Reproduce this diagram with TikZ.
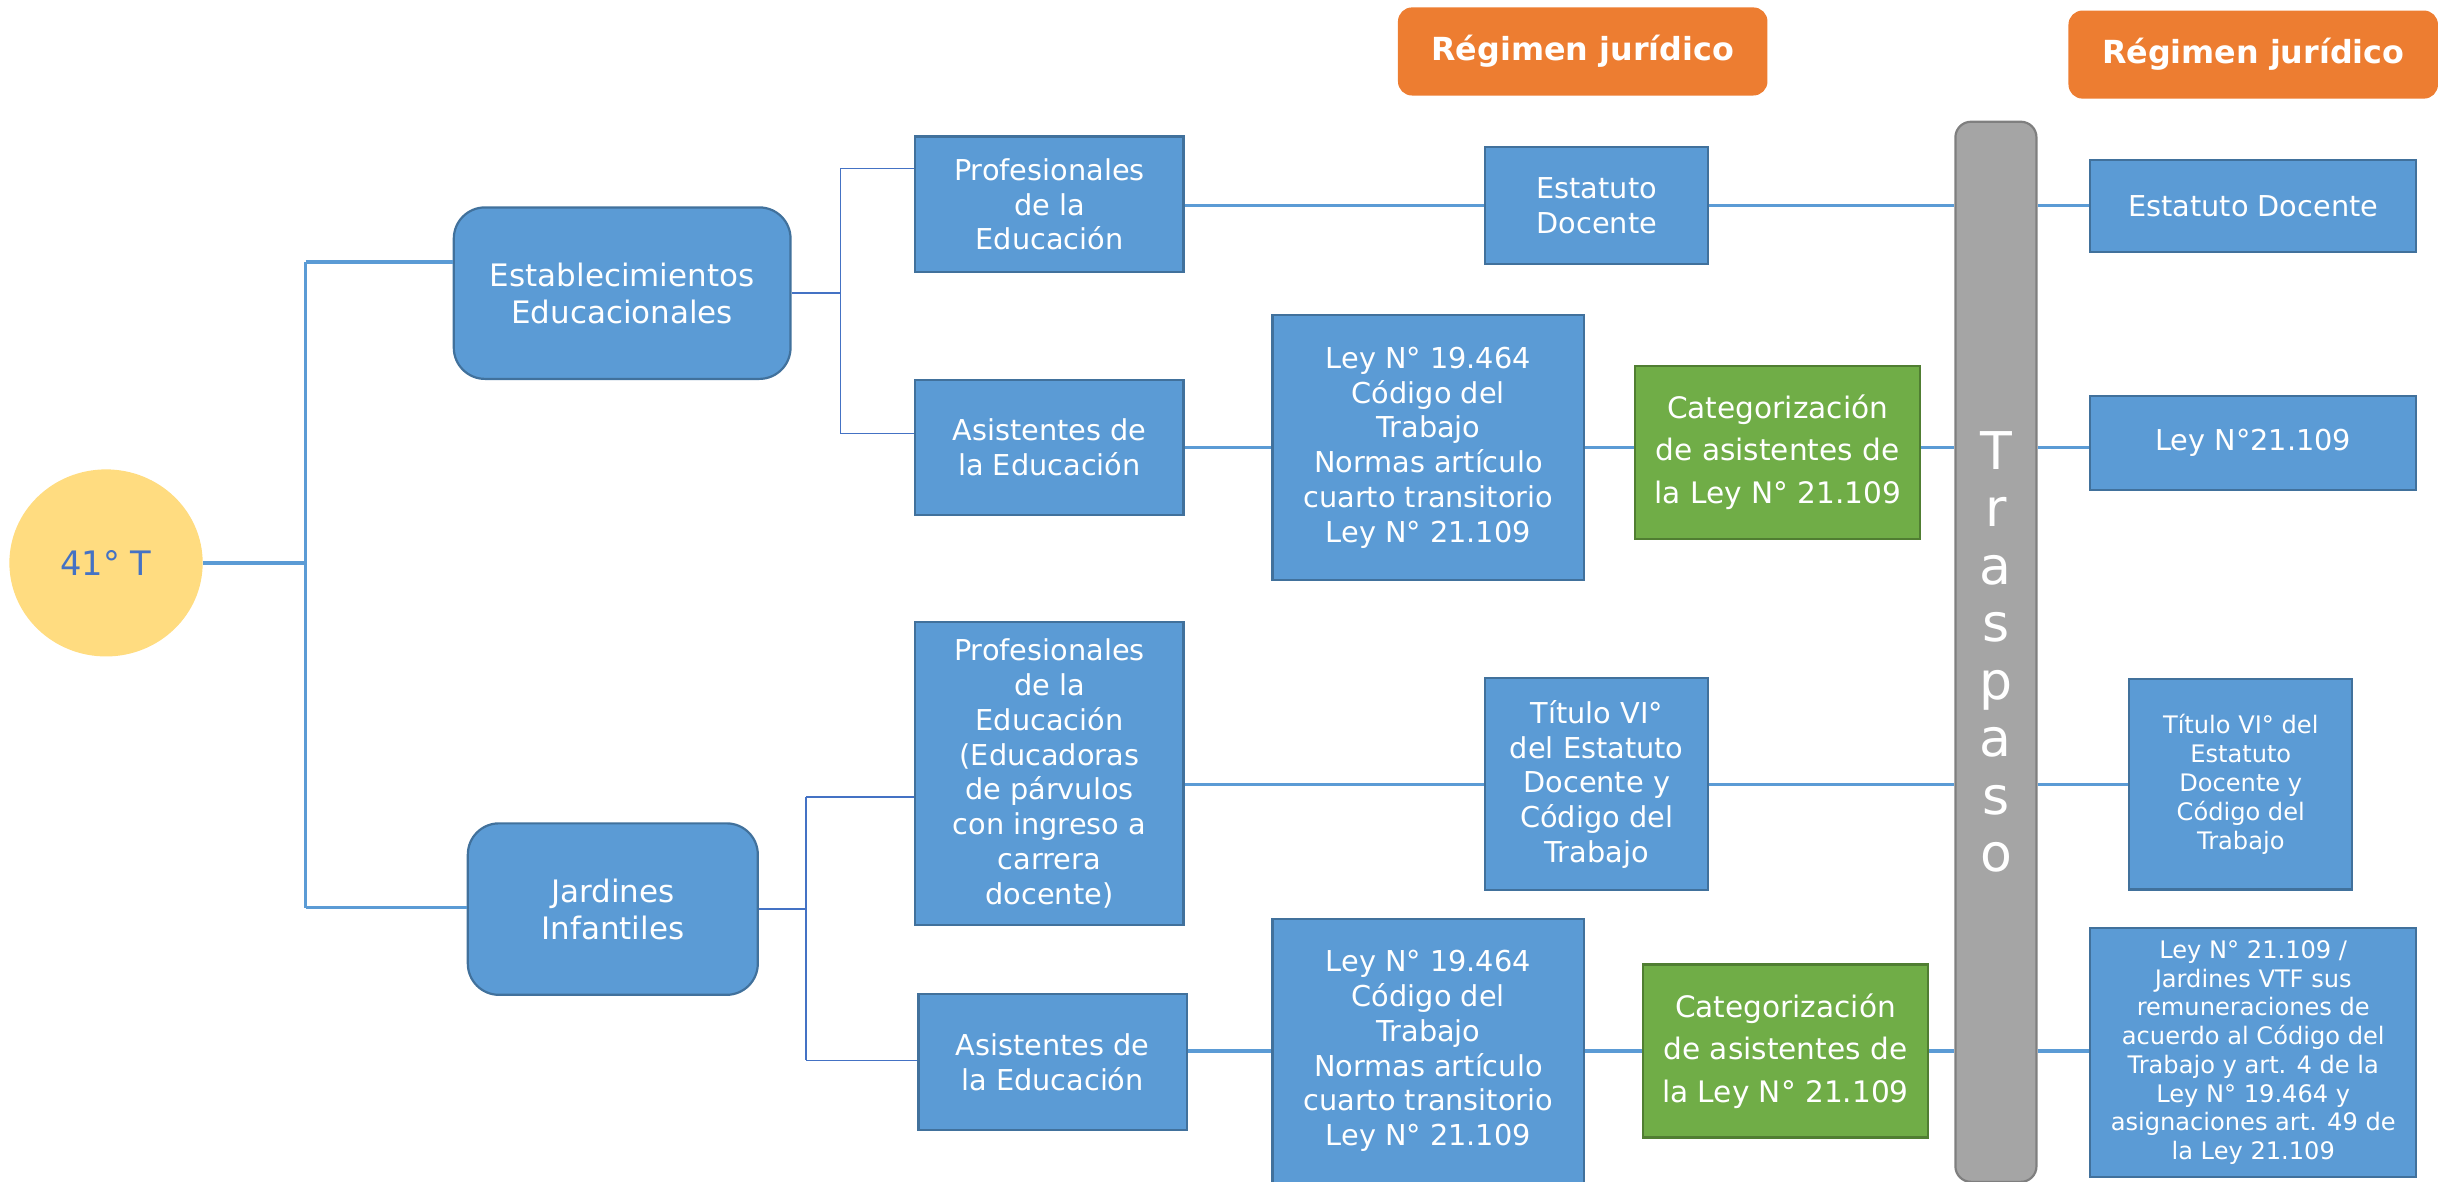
\documentclass[tikz,border=0pt]{standalone}
\usepackage{fontspec}
\setmainfont{DejaVu Sans}
\usetikzlibrary{shapes.geometric}
\definecolor{boxblue}{HTML}{5B9BD5}
\definecolor{boxline}{HTML}{41719C}
\definecolor{catgreen}{HTML}{70AD47}
\definecolor{catline}{HTML}{507E32}
\definecolor{regorange}{HTML}{ED7D31}
\definecolor{bargray}{HTML}{A5A5A5}
\definecolor{barline}{HTML}{7F7F7F}
\definecolor{sunyellow}{HTML}{FFDC80}
\definecolor{darkblue}{HTML}{4472C4}
\begin{document}
\begin{tikzpicture}[x=0.02cm,y=-0.02cm,
    box/.style={rectangle,fill=boxblue,draw=boxline,line width=0.8pt,text=white,
      align=center,inner sep=0pt,font=\fontsize{10.5}{12.7}\selectfont},
    group/.style={box,rounded corners=0.4cm,font=\fontsize{11.3}{13.6}\selectfont},
    small/.style={box,font=\fontsize{8.8}{10.5}\selectfont},
    cat/.style={box,fill=catgreen,draw=catline,font=\fontsize{10.8}{15.5}\selectfont},
    regimen/.style={rectangle,rounded corners=0.18cm,fill=regorange,text=white,
      inner sep=0pt,minimum width=4.74cm,minimum height=1.13cm,
      font=\bfseries\fontsize{11.6}{13.9}\selectfont},
    link/.style={draw=boxblue,line width=1.2pt},
    bracket/.style={draw=darkblue,line width=0.6pt}]
  \useasboundingbox (0,0) rectangle (1568,758);
  \draw
    (68,361) node[ellipse,fill=sunyellow,minimum width=2.48cm,minimum height=2.4cm,
      text=darkblue,font=\fontsize{12.3}{14}\selectfont] (t41){41° T}
    (399,188) node[group,minimum width=4.32cm,minimum height=2.2cm] (estab){Establecimientos\\Educacionales}
    (393,583) node[group,minimum width=3.72cm,minimum height=2.2cm] (jard){Jardines\\Infantiles}
    (673,131) node[box,minimum width=3.44cm,minimum height=1.74cm] (prof1){Profesionales\\de la\\Educación}
    (673,287) node[box,minimum width=3.44cm,minimum height=1.74cm] (asist1){Asistentes de\\la Educación}
    (673,496) node[box,minimum width=3.44cm,minimum height=3.88cm] (prof2){Profesionales\\de la\\Educación\\(Educadoras\\de párvulos\\con ingreso a\\carrera\\docente)}
    (675,681) node[box,minimum width=3.44cm,minimum height=1.74cm] (asist2){Asistentes de\\la Educación}
    (1024,132) node[box,minimum width=2.86cm,minimum height=1.5cm] (estdoc){Estatuto\\Docente}
    (916,287) node[box,minimum width=4cm,minimum height=3.4cm] (ley1){Ley N° 19.464\\Código del\\Trabajo\\Normas artículo\\cuarto transitorio\\Ley N° 21.109}
    (1140,290) node[cat,minimum width=3.66cm,minimum height=2.22cm] (cat1){Categorización\\de asistentes de\\la Ley N° 21.109}
    (1024,503) node[box,minimum width=2.86cm,minimum height=2.72cm] (titulo){Título VI°\\del Estatuto\\Docente y\\Código del\\Trabajo}
    (916,674) node[box,minimum width=4cm,minimum height=3.38cm] (ley2){Ley N° 19.464\\Código del\\Trabajo\\Normas artículo\\cuarto transitorio\\Ley N° 21.109}
    (1145,674) node[cat,minimum width=3.66cm,minimum height=2.22cm] (cat2){Categorización\\de asistentes de\\la Ley N° 21.109}
    (1280,418) node[rectangle,rounded corners=0.2cm,fill=bargray,draw=barline,line width=0.8pt,
      minimum width=1.04cm,minimum height=13.6cm,text=white,align=center,
      font=\fontsize{19}{21}\selectfont] (bar){T\\r\\a\\s\\p\\a\\s\\o}
    (1015,33) node[regimen] (reg1){Régimen jurídico}
    (1445,35) node[regimen] (reg2){Régimen jurídico}
    (1445,132) node[box,minimum width=4.18cm,minimum height=1.18cm] (r1){Estatuto Docente}
    (1445,284) node[box,minimum width=4.18cm,minimum height=1.2cm] (r2){Ley N°21.109}
    (1437,503) node[small,minimum width=2.86cm,minimum height=2.7cm] (r3){Título VI° del\\Estatuto\\Docente y\\Código del\\Trabajo}
    (1445,675) node[small,minimum width=4.18cm,minimum height=3.2cm] (r4){Ley N° 21.109 /\\Jardines VTF sus\\remuneraciones de\\acuerdo al Código del\\Trabajo y art. 4 de la\\Ley N° 19.464 y\\asignaciones art. 49 de\\la Ley 21.109};
  \coordinate (jt) at (196,168);
  \coordinate (jb) at (196,582);
  \coordinate (b1t) at (539,108);
  \coordinate (b1b) at (539,278);
  \coordinate (b2t) at (517,511);
  \coordinate (b2b) at (517,680);
  \begin{scope}[link]
    \draw (jt) -- (jb);
    \draw (t41) -- (t41 -| jt);
    \draw (jt) -- (jt -| estab.west);
    \draw (jb) -- (jb -| jard.west);
    \draw (prof1.east |- estdoc) -- (estdoc.west);
    \draw (estdoc.east) -- (estdoc.east -| bar.west);
    \draw (bar.east |- estdoc) -- (r1.west);
    \draw (asist1.east) -- (ley1.west);
    \draw (ley1.east) -- (ley1.east -| cat1.west);
    \draw (cat1.east |- ley1) -- (bar.west |- ley1);
    \draw (bar.east |- ley1) -- (r1.west |- ley1);
    \draw (prof2.east |- titulo) -- (titulo.west);
    \draw (titulo.east) -- (titulo.east -| bar.west);
    \draw (bar.east |- titulo) -- (r3.west);
    \draw (asist2.east |- ley2) -- (ley2.west);
    \draw (ley2.east) -- (ley2.east -| cat2.west);
    \draw (cat2.east |- ley2) -- (bar.west |- ley2);
    \draw (bar.east |- ley2) -- (r4.west |- ley2);
  \end{scope}
  \begin{scope}[bracket]
    \draw (b1t) -- (b1b);
    \draw (estab.east) -- (estab.east -| b1t);
    \draw (b1t) -- (b1t -| prof1.west);
    \draw (b1b) -- (b1b -| asist1.west);
    \draw (b2t) -- (b2b);
    \draw (jard.east) -- (jard.east -| b2t);
    \draw (b2t) -- (b2t -| prof2.west);
    \draw (b2b) -- (b2b -| asist2.west);
  \end{scope}
\end{tikzpicture}
\end{document}
